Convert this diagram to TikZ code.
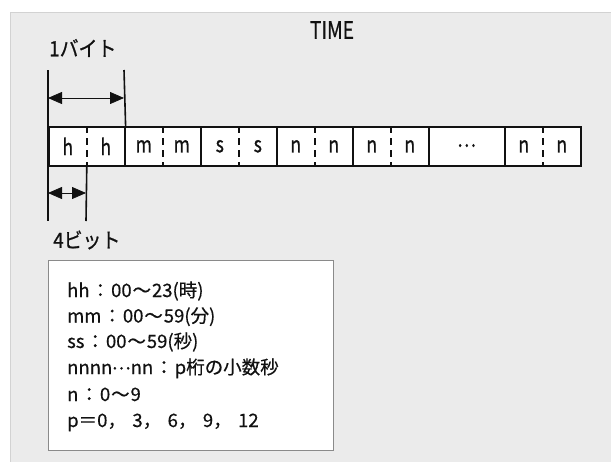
\documentclass[tikz,border=0pt]{standalone}
\usepackage{fontspec}
\usetikzlibrary{arrows.meta}
\newfontfamily\jpfont[FakeBold=0.5]{Noto Sans CJK JP}
\newfontfamily\jpcond[FakeStretch=0.8,FakeBold=0.7]{Noto Sans CJK JP}
\newfontfamily\jplbl[FakeStretch=0.9,FakeBold=0.7]{Noto Sans CJK JP}
\newcommand\jco{\hspace{0.08em}：\hspace{0.08em}}
\newcommand\jti{\hspace{0.05em}～\hspace{0.05em}}
\newcommand\jcm{，\hspace{0.35em}}
\newcommand\jdots{\raisebox{0.25em}{.\kern0.08em.\kern0.08em.}}
\definecolor{panelbg}{HTML}{EBEBEB}
\definecolor{panelln}{HTML}{D2D2D2}
\definecolor{ink}{HTML}{111111}
\definecolor{boxln}{HTML}{8A8A8A}
\tikzset{
  cellbox/.style={draw=ink, line width=1.6pt, fill=white, minimum width=76pt, minimum height=39pt, inner sep=0pt, anchor=north west},
  half/.style={text=ink, font=\jpcond\fontsize{22}{22}\selectfont, inner sep=0pt},
  halfsep/.style={draw=ink, line width=1.5pt, dash pattern=on 6.5pt off 5.5pt},
  guide/.style={draw=ink, line width=1.6pt},
  dim/.style={draw=ink, line width=0.8pt, {Triangle[length=14pt,width=12pt]}-{Triangle[length=14pt,width=12pt]}},
  lbl/.style={text=ink, font=\jplbl\fontsize{21}{21}\selectfont, inner sep=0pt},
  legend/.style={text=ink, font=\jpfont\fontsize{18.5}{18.5}\selectfont, inner sep=0pt, anchor=base west}
}
\begin{document}
\begin{tikzpicture}[x=1pt,y=-1pt]
\useasboundingbox (0,0) rectangle (611,461);
% panel
\path[fill=panelbg, draw=panelln, line width=1pt] (10,12) rectangle (625,475);
\node[half, font=\jpcond\fontsize{24}{24}\selectfont] (title) at (332,30) {TIME};
% cells
\foreach \i/\a/\b in {0/h/h,1/m/m,2/s/s,3/n/n,4/n/n,6/n/n}{
  \node[cellbox] (c\i) at (48+76*\i,126) {};
  \node[half] (c\i a) at ([xshift=-19pt]c\i.center) {\a};
  \node[half] (c\i b) at ([xshift=19pt]c\i.center) {\b};
  \draw[halfsep] (c\i.north) -- (c\i.south);
}
\node[cellbox] (c5) at (48+76*5,126) {};
\node[half, anchor=base] (dots) at ([yshift=-6pt]c5.center) {\jdots};
% guides
\coordinate (g1top) at (48,70);
\coordinate (g1bot) at (48,221);
\coordinate (g2top) at (124,70);
\coordinate (g3bot) at (86,221);
\draw[guide] (g1top) -- (g1bot);
\draw[guide] (g2top) -- (c0.north east);
\draw[guide] (c0.south) -- (g3bot);
\coordinate (a1l) at (48,98);
\coordinate (a1r) at (124,98);
\coordinate (a2l) at (48,193);
\coordinate (a2r) at (86,193);
\draw[dim] (a1l) -- (a1r);
\draw[dim] (a2l) -- (a2r);
\node[lbl, anchor=west] (byte) at (49,48) {1バイト};
\node[lbl, anchor=west] (bit) at (53,240) {4ビット};
% legend box
\node[draw=boxln, line width=1pt, fill=white, minimum width=285pt, minimum height=190pt, anchor=north west, inner sep=0pt] (legendbox) at (48,260) {};
\node[legend] (l1) at (67,297) {hh\jco 00\jti 23(時)};
\node[legend] (l2) at (67,322.5) {mm\jco 00\jti 59(分)};
\node[legend] (l3) at (67,348) {ss\jco 00\jti 59(秒)};
\node[legend] (l4) at (67,374) {nnnn\jdots nn\jco p桁の小数秒};
\node[legend] (l5) at (67,401) {n\jco 0\jti 9};
\node[legend] (l6) at (67,427) {p＝0\jcm 3\jcm 6\jcm 9\jcm 12};
\end{tikzpicture}
\end{document}
